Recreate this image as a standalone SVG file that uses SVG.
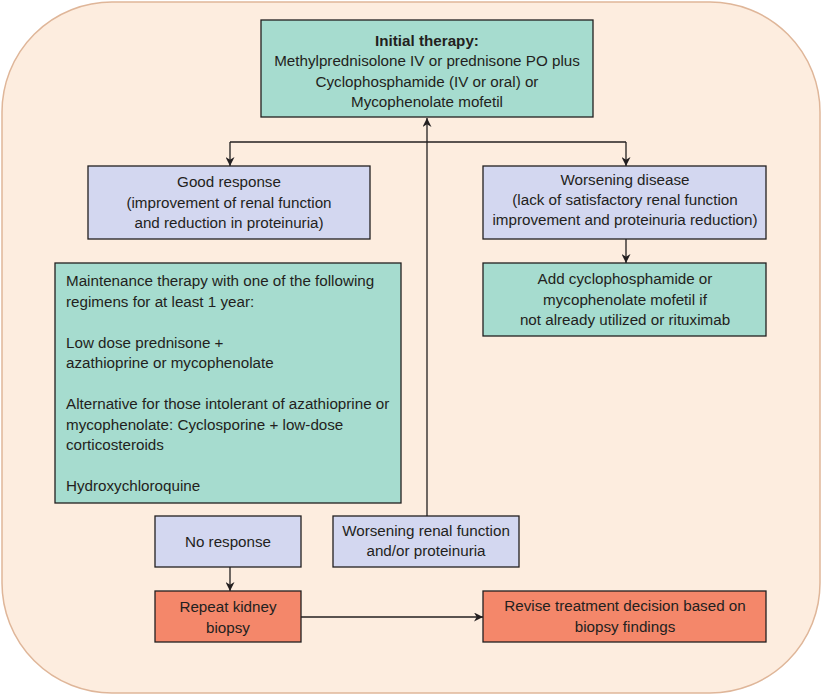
<svg xmlns="http://www.w3.org/2000/svg" width="823" height="696" viewBox="0 0 823 696">
<defs>
<marker id="ah" viewBox="0 0 10 10" refX="10" refY="5" markerWidth="9" markerHeight="9" markerUnits="userSpaceOnUse" orient="auto">
<path d="M0,0 L10,5 L0,10 L3,5 Z" fill="#231f20"/>
</marker>
</defs>
<style>
text{font-family:"Liberation Sans",Arial,sans-serif;font-size:15.2px;fill:#231f20}
.c{text-anchor:middle}
.b{font-weight:bold}
.box{stroke:#231f20;stroke-width:1.3}
.teal{fill:#a6dccf}
.lav{fill:#d3d7f0}
.sal{fill:#f4876a}
.ln{stroke:#231f20;stroke-width:1.3;fill:none}
</style>
<rect x="2" y="2" width="818" height="691" rx="110" ry="110" fill="#fdeddf" stroke="#dfb699" stroke-width="1.5"/>
<g id="connectors">
<path class="ln" d="M427,516 V118" marker-end="url(#ah)"/>
<path class="ln" d="M230,142 H626"/>
<path class="ln" d="M230,142 V166" marker-end="url(#ah)"/>
<path class="ln" d="M626,142 V166" marker-end="url(#ah)"/>
<path class="ln" d="M626,239 V263" marker-end="url(#ah)"/>
<path class="ln" d="M230,567 V591" marker-end="url(#ah)"/>
<path class="ln" d="M301,617 H483" marker-end="url(#ah)"/>
</g>
<g id="initial">
<rect class="box teal" x="261" y="20" width="332" height="97"/>
<text class="c b" x="427" y="46">Initial therapy:</text>
<text class="c" x="427" y="66">Methylprednisolone IV or prednisone PO plus</text>
<text class="c" x="427" y="87">Cyclophosphamide (IV or oral) or</text>
<text class="c" x="427" y="107">Mycophenolate mofetil</text>
</g>
<g id="good">
<rect class="box lav" x="88" y="166" width="282" height="73"/>
<text class="c" x="229" y="187">Good response</text>
<text class="c" x="229" y="208">(improvement of renal function</text>
<text class="c" x="229" y="228">and reduction in proteinuria)</text>
</g>
<g id="worsening">
<rect class="box lav" x="483" y="166" width="283" height="73"/>
<text class="c" x="625" y="185">Worsening disease</text>
<text class="c" x="625" y="205">(lack of satisfactory renal function</text>
<text class="c" x="625" y="225">improvement and proteinuria reduction)</text>
</g>
<g id="add">
<rect class="box teal" x="483" y="263" width="283" height="73"/>
<text class="c" x="625" y="284">Add cyclophosphamide or</text>
<text class="c" x="625" y="305">mycophenolate mofetil if</text>
<text class="c" x="625" y="325">not already utilized or rituximab</text>
</g>
<g id="maintenance">
<rect class="box teal" x="55" y="263" width="346" height="240"/>
<text x="66" y="286">Maintenance therapy with one of the following</text>
<text x="66" y="306.5">regimens for at least 1 year:</text>
<text x="66" y="347.5">Low dose prednisone +</text>
<text x="66" y="368">azathioprine or mycophenolate</text>
<text x="66" y="409">Alternative for those intolerant of azathioprine or</text>
<text x="66" y="429.5">mycophenolate: Cyclosporine + low-dose</text>
<text x="66" y="450">corticosteroids</text>
<text x="66" y="491">Hydroxychloroquine</text>
</g>
<g id="noresponse">
<rect class="box lav" x="155" y="516" width="146" height="51"/>
<text class="c" x="228" y="547">No response</text>
</g>
<g id="worseningrenal">
<rect class="box lav" x="333" y="516" width="186" height="51"/>
<text class="c" x="426" y="536">Worsening renal function</text>
<text class="c" x="426" y="556">and/or proteinuria</text>
</g>
<g id="repeat">
<rect class="box sal" x="155" y="591" width="146" height="51"/>
<text class="c" x="228" y="612">Repeat kidney</text>
<text class="c" x="228" y="633">biopsy</text>
</g>
<g id="revise">
<rect class="box sal" x="483" y="591" width="283" height="51"/>
<text class="c" x="625" y="611">Revise treatment decision based on</text>
<text class="c" x="625" y="632">biopsy findings</text>
</g>
</svg>
